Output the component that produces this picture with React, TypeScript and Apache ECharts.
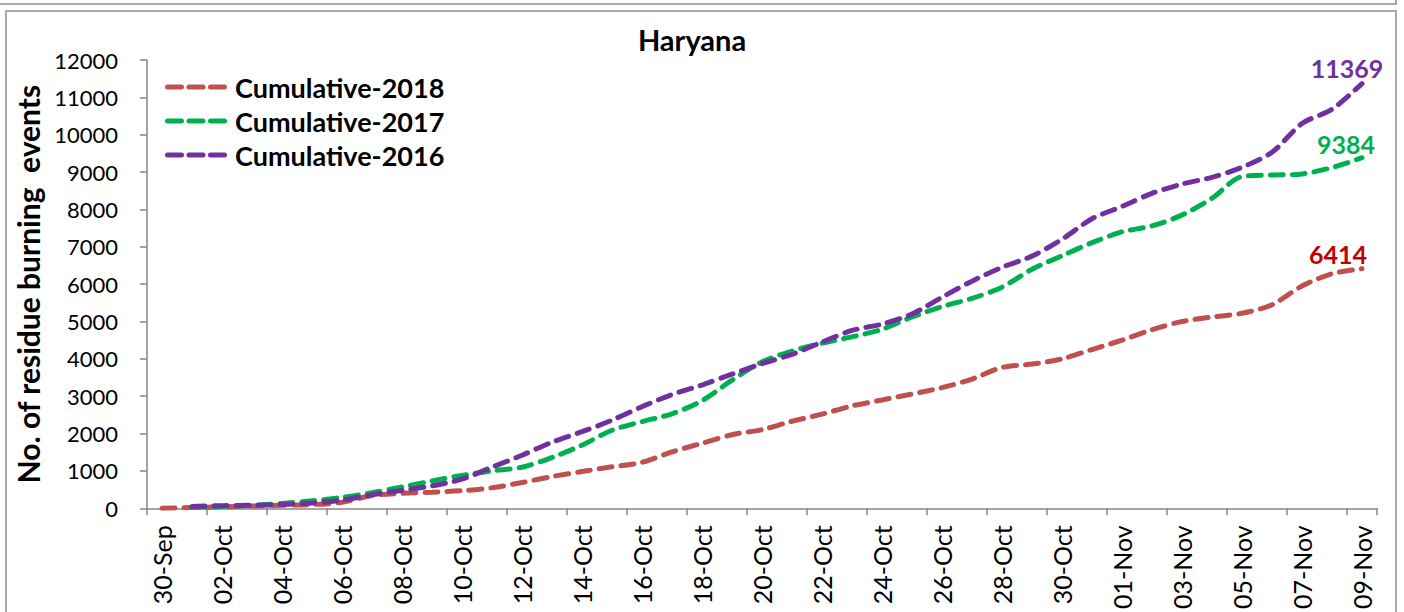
import React, { useEffect, useRef } from 'react';
import * as echarts from 'echarts';

const categories = [
  '30-Sep',
  '01-Oct', '02-Oct', '03-Oct', '04-Oct', '05-Oct', '06-Oct', '07-Oct', '08-Oct', '09-Oct', '10-Oct',
  '11-Oct', '12-Oct', '13-Oct', '14-Oct', '15-Oct', '16-Oct', '17-Oct', '18-Oct', '19-Oct', '20-Oct',
  '21-Oct', '22-Oct', '23-Oct', '24-Oct', '25-Oct', '26-Oct', '27-Oct', '28-Oct', '29-Oct', '30-Oct',
  '31-Oct', '01-Nov', '02-Nov', '03-Nov', '04-Nov', '05-Nov', '06-Nov', '07-Nov', '08-Nov', '09-Nov',
];

const cum2018 = [
  0, 20, 40, 60, 80, 100, 160, 340, 400, 430, 470, 550, 690, 850, 985, 1110, 1230, 1510, 1740, 1970,
  2105, 2330, 2520, 2740, 2900, 3060, 3230, 3460, 3770, 3860, 4000, 4250, 4500, 4780, 5000, 5120,
  5220, 5450, 5950, 6280, 6414,
];

const cum2017 = [
  null, 20, 50, 80, 130, 200, 290, 420, 570, 730, 880, 1000, 1100, 1360, 1690, 2090, 2320, 2530, 2880,
  3430, 3920, 4210, 4420, 4590, 4790, 5120, 5400, 5620, 5920, 6400, 6760, 7110, 7400, 7560, 7850,
  8300, 8880, 8920, 8950, 9120, 9384,
];

const cum2016 = [
  null, 50, 70, 80, 100, 140, 220, 360, 480, 600, 780, 1100, 1420, 1770, 2050, 2360, 2720, 3045, 3300,
  3590, 3870, 4120, 4450, 4760, 4930, 5200, 5650, 6080, 6450, 6750, 7200, 7750, 8080, 8430, 8680,
  8860, 9130, 9530, 10300, 10680, 11369,
];

const seriesNames = ['Cumulative-2018', 'Cumulative-2017', 'Cumulative-2016'];
const yMin = 0;
const yMax = 12000;
const yInterval = 1000;

const FONT = 'Lato';
const AXIS_GRAY = '#868686';

// three rounded dashes, 62 x 5
const DASH_ICON =
  'path://M2.5,0h14a2.5,2.5 0 0 1 0,5h-14a2.5,2.5 0 0 1 0,-5z' +
  'M24,0h14a2.5,2.5 0 0 1 0,5h-14a2.5,2.5 0 0 1 0,-5z' +
  'M45.5,0h14a2.5,2.5 0 0 1 0,5h-14a2.5,2.5 0 0 1 0,-5z';

export default function App() {
  const ref = useRef<HTMLDivElement>(null);

  useEffect(() => {
    if (!ref.current) return;
    const chart = echarts.init(ref.current, null, { renderer: 'svg' });

    const mkSeries = (name: string, data: (number | null)[], color: string, labelColor: string, offset: number[]) => ({
      name,
      type: 'line',
      data,
      smooth: 0.3,
      symbol: 'none',
      connectNulls: false,
      lineStyle: { color, width: 5, type: [13, 9], cap: 'round' },
      itemStyle: { color },
      endLabel: {
        show: true,
        formatter: (p: any) => String(p.value),
        color: labelColor,
        fontFamily: FONT,
        fontSize: 25,
        fontWeight: 'bold',
        align: 'center',
        verticalAlign: 'middle',
        distance: 0,
        offset,
      },
    });

    const option: any = {
      animation: false,
      textStyle: { fontFamily: FONT },
      grid: { left: 147, right: 27, top: 60, bottom: 103, containLabel: false },
      graphic: [
        {
          type: 'rect',
          silent: true,
          shape: { x: 6, y: 11, width: 1390, height: 620 },
          style: { fill: 'none', stroke: '#8c8c8c', lineWidth: 1.5 },
        },
        {
          type: 'line',
          silent: true,
          shape: { x1: 0, y1: 4, x2: 1397, y2: 4 },
          style: { stroke: '#8c8c8c', lineWidth: 1.5 },
        },
        {
          type: 'line',
          silent: true,
          shape: { x1: 1396, y1: 0, x2: 1396, y2: 4 },
          style: { stroke: '#8c8c8c', lineWidth: 1.5 },
        },
        {
          type: 'text',
          silent: true,
          x: 692,
          y: 39,
          style: {
            text: 'Haryana',
            fontFamily: FONT,
            fontSize: 29,
            fontWeight: 'bold',
            fill: '#000',
            align: 'center',
            verticalAlign: 'middle',
          },
        },
      ],
      legend: {
        orient: 'vertical',
        left: 160,
        top: 67,
        itemWidth: 62,
        itemHeight: 5,
        itemGap: 4,
        icon: DASH_ICON,
        data: seriesNames,
        textStyle: {
          fontFamily: FONT,
          fontSize: 27,
          lineHeight: 30,
          fontWeight: 'bold',
          color: '#000',
          padding: [0, 0, 0, 3],
        },
      },
      xAxis: {
        type: 'category',
        data: categories,
        boundaryGap: true,
        axisLine: { lineStyle: { color: AXIS_GRAY, width: 1.5 } },
        axisTick: { show: true, interval: 1, length: 7, alignWithLabel: false, lineStyle: { color: AXIS_GRAY, width: 1.5 } },
        axisLabel: { interval: 1, rotate: 90, margin: 17, fontSize: 25, color: '#000', fontFamily: FONT },
        splitLine: { show: false },
      },
      yAxis: {
        type: 'value',
        min: yMin,
        max: yMax,
        interval: yInterval,
        name: 'No. of residue burning  events',
        nameLocation: 'middle',
        nameGap: 94,
        nameRotate: 90,
        nameTextStyle: { fontFamily: FONT, fontSize: 30, fontWeight: 'bold', color: '#000' },
        axisLine: { show: true, lineStyle: { color: AXIS_GRAY, width: 1.5 } },
        axisTick: { show: true, length: 7, lineStyle: { color: AXIS_GRAY, width: 1.5 } },
        axisLabel: {
          margin: 29,
          fontSize: 22,
          color: '#000',
          fontFamily: FONT,
          formatter: (v: number) => String(v),
        },
        splitLine: { show: false },
      },
      series: [
        mkSeries(seriesNames[0], cum2018, '#C0504D', '#C00000', [-24, -15]),
        mkSeries(seriesNames[1], cum2017, '#00B050', '#00B050', [-16, -14]),
        mkSeries(seriesNames[2], cum2016, '#7030A0', '#7030A0', [-15, -16]),
      ],
    };

    chart.setOption(option);
    return () => chart.dispose();
  }, []);

  return (
    <div
      ref={ref}
      style={{ position: 'absolute', left: 0, top: 0, width: 1404, height: 612, background: '#fff' }}
    />
  );
}
